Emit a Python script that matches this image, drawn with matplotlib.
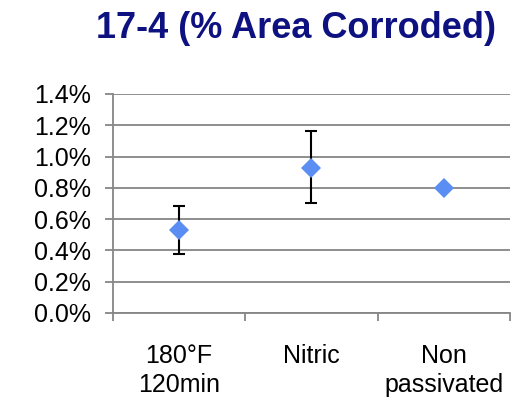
import matplotlib
matplotlib.use('Agg')
import matplotlib.pyplot as plt
from matplotlib.ticker import PercentFormatter

# data
categories = ['180°F\n120min', 'Nitric', 'Non\npassivated']
mean_pct = [0.53, 0.93, 0.80]
err_hi = [0.155, 0.235, 0.0]
err_lo = [0.15, 0.23, 0.0]
yticks = [0.0, 0.2, 0.4, 0.6, 0.8, 1.0, 1.2, 1.4]

plt.rcParams['font.family'] = ['Liberation Sans', 'DejaVu Sans']

fig = plt.figure(figsize=(5.29, 4.01), dpi=100)
ax = fig.add_axes([0.2136, 0.2195, 0.7504, 0.5461])

xpos = [1, 2, 3]
ax.errorbar(xpos, mean_pct, yerr=[err_lo, err_hi], fmt='none',
            ecolor='black', elinewidth=1.5, capsize=4, capthick=1.5, zorder=3)
ax.plot(xpos, mean_pct, linestyle='none', marker='D', markersize=10.5,
        color='#5B8EF2', markeredgewidth=0, zorder=4)

ax.set_xlim(0.5, 3.5)
ax.set_ylim(0, 1.4)
ax.set_yticks(yticks)
ax.yaxis.set_major_formatter(PercentFormatter(decimals=1))

gray = '#868686'
ax.grid(axis='y', color=gray, linewidth=1.3)
ax.set_axisbelow(True)
for s in ['top', 'right']:
    ax.spines[s].set_visible(False)
for s in ['left', 'bottom']:
    ax.spines[s].set_color(gray)
    ax.spines[s].set_linewidth(1.3)

# boundary ticks between categories, labels in the middle
ax.set_xticks([0.5, 1.5, 2.5, 3.5])
ax.set_xticklabels([])
ax.set_xticks(xpos, minor=True)
ax.set_xticklabels(categories, minor=True, fontsize=18, linespacing=1.3)
ax.tick_params(axis='x', which='major', length=6, width=1.3, color=gray)
ax.tick_params(axis='x', which='minor', length=0, pad=22)
ax.tick_params(axis='y', length=6, width=1.3, color=gray, labelsize=18, pad=10)

fig.text(0.56, 0.93, '17-4 (% Area Corroded)', ha='center', va='center',
         fontsize=26, fontweight='bold', color='#0E1280')

fig.savefig('out.png', dpi=100)
